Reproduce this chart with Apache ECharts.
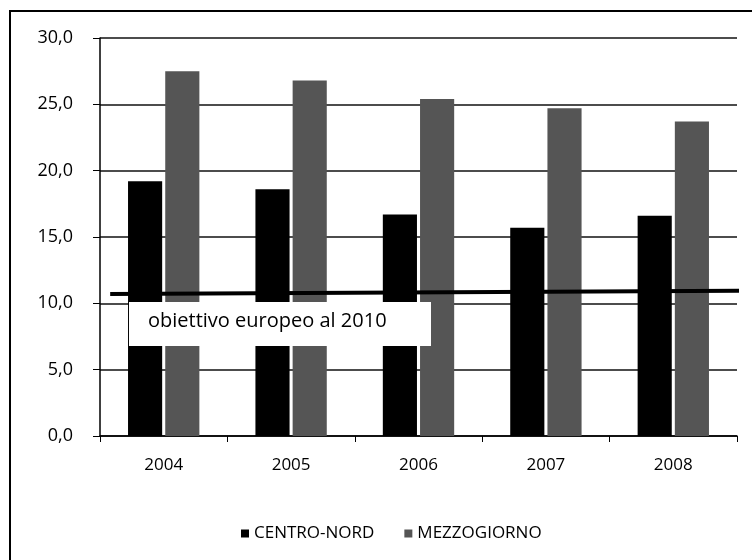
<!DOCTYPE html>
<html>
<head>
<meta charset="utf-8">
<script src="https://cdn.jsdelivr.net/npm/echarts@6/dist/echarts.min.js"></script>
<style>html,body{margin:0;padding:0;background:#fff}#c{width:752px;height:560px}</style>
</head>
<body>
<div id="c"></div>
<script>
const categories = ['2004', '2005', '2006', '2007', '2008'];
const centroNord = [19.2, 18.6, 16.7, 15.7, 16.6];
const mezzogiorno = [27.5, 26.8, 25.4, 24.7, 23.7];
const targetLine = [[0.08, 10.7], [5.12, 10.95]];
const targetLabel = 'obiettivo europeo al 2010';
const seriesNames = ['CENTRO-NORD', 'MEZZOGIORNO'];

const FONT = '"Open Sans", "Liberation Sans", sans-serif';
const chart = echarts.init(document.getElementById('c'), null, {renderer: 'canvas'});
chart.setOption({
  animation: false,
  backgroundColor: '#fff',
  textStyle: {fontFamily: FONT, color: '#000'},
  grid: {left: 100, right: 15, top: 38, bottom: 124, containLabel: false},
  legend: {
    data: seriesNames,
    left: 236, top: 520,
    icon: 'rect', itemWidth: 8, itemHeight: 8, itemGap: 30, itemTextGap: 9,
    textStyle: {fontFamily: FONT, fontSize: 17, color: '#000'}
  },
  xAxis: [{
    type: 'category', data: categories, gridIndex: 0,
    axisLine: {lineStyle: {color: '#000', width: 1.5}},
    axisTick: {show: true, length: 6, lineStyle: {color: '#000'}},
    axisLabel: {fontSize: 17, color: '#000', margin: 21, fontFamily: FONT}
  }, {
    type: 'value', min: 0, max: 5, show: false, gridIndex: 0
  }],
  yAxis: {
    type: 'value', min: 0, max: 30, interval: 5,
    axisLine: {show: true, lineStyle: {color: '#000', width: 1.5}},
    axisTick: {show: true, length: 7, lineStyle: {color: '#000'}},
    splitLine: {lineStyle: {color: '#111', width: 1.5}},
    axisLabel: {fontSize: 18, color: '#000', margin: 27, fontFamily: FONT,
      formatter: v => v.toFixed(1).replace('.', ',')}
  },
  series: [{
    name: seriesNames[0], type: 'bar', data: centroNord,
    itemStyle: {color: '#000'}, barGap: '9%', barCategoryGap: '44%'
  }, {
    name: seriesNames[1], type: 'bar', data: mezzogiorno,
    itemStyle: {color: '#555'}
  }, {
    name: 'target', type: 'line', xAxisIndex: 1, data: targetLine,
    symbol: 'none', clip: false, z: 5,
    lineStyle: {color: '#000', width: 4}
  }],
  graphic: [{
    type: 'rect', shape: {x: 10, y: 11, width: 760, height: 570},
    style: {fill: 'none', stroke: '#000', lineWidth: 2}, z: 100
  }, {
    type: 'rect', shape: {x: 129, y: 302, width: 302, height: 44},
    style: {fill: '#fff'}, z: 100
  }, {
    type: 'text', left: 148, top: 311, z: 101,
    style: {text: targetLabel, fontSize: 20, fontFamily: FONT, fill: '#000'}
  }]
});
</script>
</body>
</html>
